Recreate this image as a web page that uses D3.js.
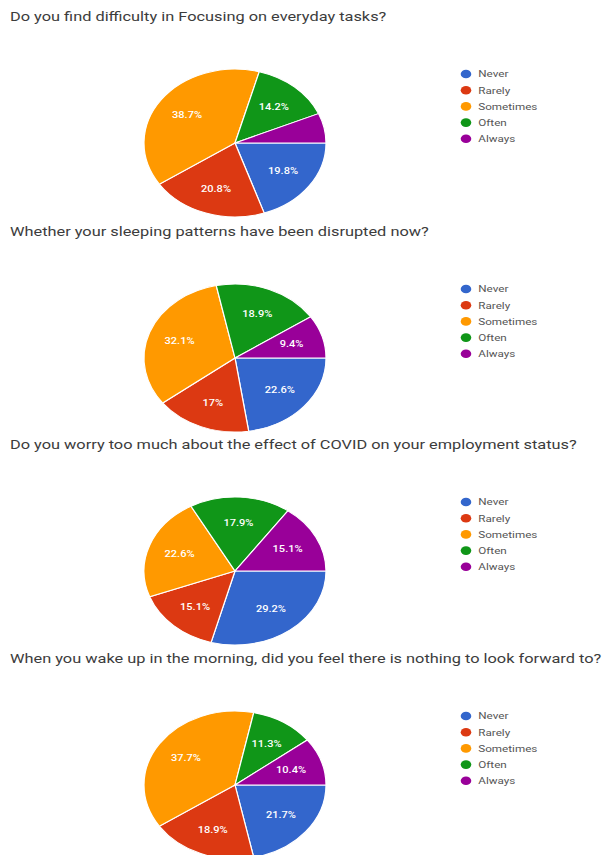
<!DOCTYPE html>
<html><head><meta charset="utf-8">
<script src="https://cdn.jsdelivr.net/npm/d3@7"></script>
<style>html,body{margin:0;padding:0;background:#fff;}svg{display:block;}</style>
</head><body>
<svg id="c" width="604" height="855"></svg>
<script>
const categories = ["Never", "Rarely", "Sometimes", "Often", "Always"];
const colors = ["#3366cc", "#dc3912", "#ff9900", "#109618", "#990099"];
const titles = [
  "Do you find difficulty in Focusing on everyday tasks?",
  "Whether your sleeping patterns have been disrupted now?",
  "Do you worry too much about the effect of COVID on your employment status?",
  "When you wake up in the morning, did you feel there is nothing to look forward to?"
];
const focusing = [19.8, 20.8, 38.7, 14.2, 6.5];
const sleeping = [22.6, 17.0, 32.1, 18.9, 9.4];
const employment = [29.2, 15.1, 22.6, 17.9, 15.1];
const morning = [21.7, 18.9, 37.7, 11.3, 10.4];
const seriesList = [focusing, sleeping, employment, morning];

const sx = 1.23;            // horizontal stretch of the reference picture
const svg = d3.select("#c");
const g = svg.append("g").attr("transform", `scale(${sx},1)`);
const centersY = [143, 358, 571, 785];
const cx = 235 / sx, R = 74;

const pie = d3.pie().sort(null).value(d => d)
  .startAngle(Math.PI / 2).endAngle(Math.PI / 2 + 2 * Math.PI);
const arc = d3.arc().innerRadius(0).outerRadius(R);
const labelArc = d3.arc().innerRadius(R * 0.65).outerRadius(R * 0.65);
const color = d3.scaleOrdinal().domain(categories).range(colors);
const fmt = v => (Math.round(v * 10) / 10) + "%";

seriesList.forEach((vals, i) => {
  const cy = centersY[i];
  g.append("text")
    .attr("x", 10 / sx).attr("y", cy - 122)
    .attr("font-family", "Roboto, sans-serif").attr("font-size", 13.3)
    .attr("fill", "#3c3c3c").text(titles[i]);

  const total = d3.sum(vals);
  const pg = g.append("g").attr("transform", `translate(${cx},${cy})`);
  const arcs = pie(vals);
  pg.selectAll("path").data(arcs).join("path")
    .attr("d", arc)
    .attr("fill", (d, j) => color(categories[j]))
    .attr("stroke", "#fff").attr("stroke-width", 1);
  pg.selectAll("text").data(arcs.filter(d => d.value / total >= 0.08)).join("text")
    .attr("transform", d => `translate(${labelArc.centroid(d)})`)
    .attr("text-anchor", "middle").attr("dy", "0.35em")
    .attr("font-family", "Roboto, sans-serif").attr("font-size", 9)
    .attr("font-weight", 500)
    .attr("fill", "#fff").text(d => fmt(d.value / total * 100));

  const lg = g.append("g").attr("transform", `translate(${466 / sx},${cy - 69})`);
  categories.forEach((c, j) => {
    const row = lg.append("g").attr("transform", `translate(0,${j * 16.2})`);
    row.append("circle").attr("r", 4.3).attr("fill", color(c));
    row.append("text").attr("x", 10).attr("dy", "0.35em")
      .attr("font-family", "Roboto, sans-serif").attr("font-size", 9.5)
      .attr("fill", "#555").text(c);
  });
});
</script>
</body></html>
